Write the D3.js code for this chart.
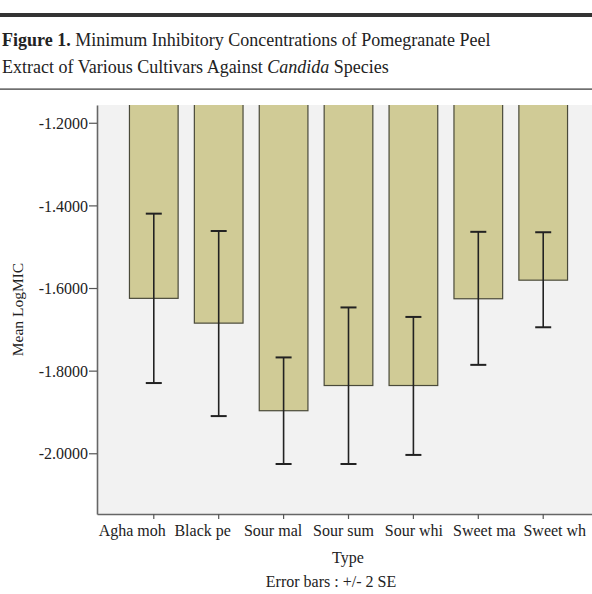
<!DOCTYPE html>
<html>
<head>
    <meta charset="utf-8">
    <title>Minimum Inhibitory Concentrations</title>
    <script src="https://d3js.org/d3.v7.min.js"></script>
    <style>
        body { margin: 0; background: #fff; }
        svg { display: block; font-family: "Liberation Serif", serif; }
    </style>
</head>
<body>
    <div id="chart"></div>

    <script>
        // data
        var categories = ["Agha moh", "Black pe", "Sour mal", "Sour sum", "Sour whi", "Sweet ma", "Sweet wh"];
        var means = [-1.625, -1.685, -1.897, -1.836, -1.836, -1.626, -1.581];
        var errHigh = [-1.420, -1.462, -1.768, -1.647, -1.670, -1.464, -1.465];
        var errLow = [-1.830, -1.910, -2.026, -2.026, -2.004, -1.786, -1.695];
        var yTicks = [-1.2, -1.4, -1.6, -1.8, -2.0];

        var width = 592, height = 594;
        var plot = { left: 97, right: 600, top: 105, bottom: 514 };

        var svg = d3.select("#chart").append("svg")
            .attr("width", width)
            .attr("height", height);

        // caption
        svg.append("rect")
            .attr("x", 0).attr("y", 13)
            .attr("width", width).attr("height", 4)
            .attr("fill", "#333");

        var cap = svg.append("text")
            .attr("x", 2).attr("y", 46)
            .style("font-size", "18px")
            .attr("fill", "#222");
        cap.append("tspan").style("font-weight", "bold").text("Figure 1.");
        cap.append("tspan").text(" Minimum Inhibitory Concentrations of Pomegranate Peel");

        var cap2 = svg.append("text")
            .attr("x", 2).attr("y", 73)
            .style("font-size", "18px")
            .attr("fill", "#222");
        cap2.append("tspan").text("Extract of Various Cultivars Against ");
        cap2.append("tspan").style("font-style", "italic").text("Candida");
        cap2.append("tspan").text(" Species");

        svg.append("rect")
            .attr("x", 0).attr("y", 88.5)
            .attr("width", width).attr("height", 1.2)
            .attr("fill", "#333");

        // scales
        var x = d3.scaleBand()
            .domain(categories)
            .range([plot.left, plot.right])
            .paddingInner(0.25)
            .paddingOuter(0.5);

        // the category labels in the figure are spread a little wider than the ticks
        var xLabel = d3.scaleBand()
            .domain(categories)
            .range([plot.left, 590]);

        var y = d3.scaleLinear()
            .domain([-2.147, -1.157])
            .range([plot.bottom, plot.top]);

        svg.append("defs").append("clipPath").attr("id", "clip")
            .append("rect")
            .attr("x", plot.left).attr("y", plot.top)
            .attr("width", plot.right - plot.left)
            .attr("height", plot.bottom - plot.top);

        svg.append("rect")
            .attr("x", plot.left).attr("y", plot.top)
            .attr("width", plot.right - plot.left)
            .attr("height", plot.bottom - plot.top)
            .attr("fill", "#f2f2f2");

        var g = svg.append("g").attr("clip-path", "url(#clip)");

        // bars hang from 0 down to the mean, clipped at the top of the plot
        g.selectAll(".bar")
            .data(categories)
            .enter().append("rect")
            .attr("class", "bar")
            .attr("x", function(d) { return x(d); })
            .attr("width", x.bandwidth())
            .attr("y", y(-1.1))
            .attr("height", function(d, i) { return y(means[i]) - y(-1.1); })
            .attr("fill", "#d0cb96")
            .attr("stroke", "#4a4a3a")
            .attr("stroke-width", 1.2);

        // error bars
        var eb = g.selectAll(".err")
            .data(categories)
            .enter().append("g")
            .attr("class", "err")
            .attr("stroke", "#222")
            .attr("stroke-width", 1.6);

        var capW = 8;
        eb.append("line")
            .attr("x1", function(d) { return x(d) + x.bandwidth() / 2; })
            .attr("x2", function(d) { return x(d) + x.bandwidth() / 2; })
            .attr("y1", function(d, i) { return y(errHigh[i]); })
            .attr("y2", function(d, i) { return y(errLow[i]); });
        eb.append("line")
            .attr("x1", function(d) { return x(d) + x.bandwidth() / 2 - capW; })
            .attr("x2", function(d) { return x(d) + x.bandwidth() / 2 + capW; })
            .attr("y1", function(d, i) { return y(errHigh[i]); })
            .attr("y2", function(d, i) { return y(errHigh[i]); })
            .attr("stroke-width", 2);
        eb.append("line")
            .attr("x1", function(d) { return x(d) + x.bandwidth() / 2 - capW; })
            .attr("x2", function(d) { return x(d) + x.bandwidth() / 2 + capW; })
            .attr("y1", function(d, i) { return y(errLow[i]); })
            .attr("y2", function(d, i) { return y(errLow[i]); })
            .attr("stroke-width", 2);

        // axes
        var yAxis = svg.append("g")
            .attr("transform", "translate(" + plot.left + ",0)")
            .call(d3.axisLeft(y).tickValues(yTicks)
                .tickFormat(function(d) { return d.toFixed(4); })
                .tickSize(8).tickSizeOuter(0));
        var xAxis = svg.append("g")
            .attr("transform", "translate(0," + plot.bottom + ")")
            .call(d3.axisBottom(x).tickSize(5).tickSizeOuter(0));

        [yAxis, xAxis].forEach(function(a) {
            a.select(".domain").attr("stroke", "#666").attr("stroke-width", 1.6);
            a.selectAll(".tick line").attr("stroke", "#555").attr("stroke-width", 1.2);
            a.selectAll(".tick text")
                .attr("fill", "#222")
                .style("font-family", "Liberation Serif, serif")
                .style("font-size", "16px");
        });
        yAxis.selectAll(".tick text").attr("x", -9).attr("dy", "0.35em");
        xAxis.selectAll(".tick text")
            .attr("x", function(d) { return xLabel(d) + xLabel.bandwidth() / 2 - x(d) - x.bandwidth() / 2; })
            .attr("y", 22).attr("dy", 0);

        // axis titles
        svg.append("text")
            .attr("transform", "translate(23," + (plot.top + plot.bottom) / 2 + ") rotate(-90)")
            .style("text-anchor", "middle")
            .style("font-size", "15.5px")
            .attr("fill", "#222")
            .text("Mean LogMIC");

        svg.append("text")
            .attr("x", 348).attr("y", 563)
            .style("text-anchor", "middle")
            .style("font-size", "16px")
            .attr("fill", "#222")
            .text("Type");

        svg.append("text")
            .attr("x", 331).attr("y", 587)
            .style("text-anchor", "middle")
            .style("font-size", "16px")
            .attr("fill", "#222")
            .text("Error bars : +/- 2 SE");
    </script>
</body>
</html>
